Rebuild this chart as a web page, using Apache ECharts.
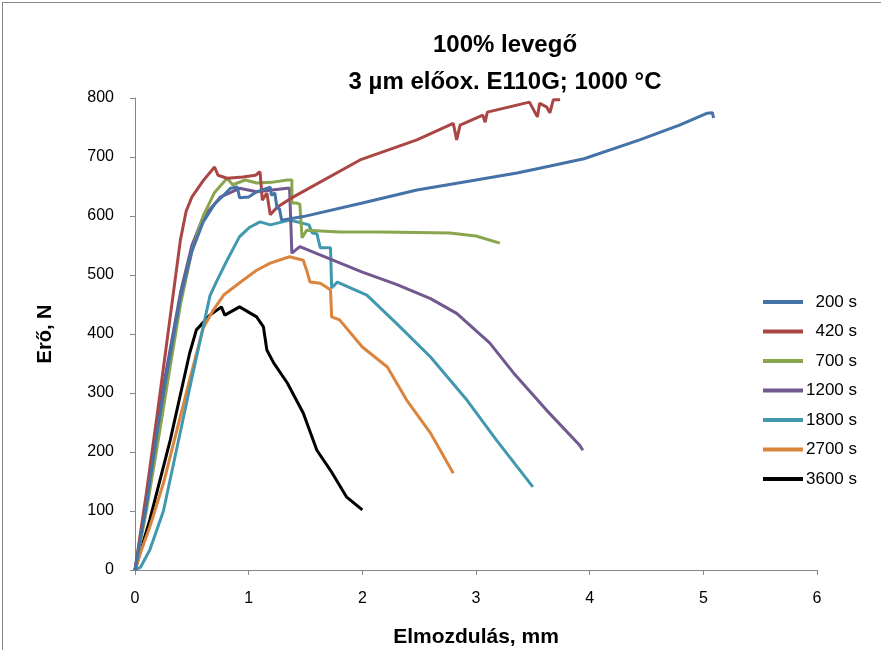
<!DOCTYPE html>
<html>
<head>
<meta charset="utf-8">
<script src="https://cdn.jsdelivr.net/npm/echarts@6/dist/echarts.min.js"></script>
<style>
html,body{margin:0;padding:0;background:#fff;}
#wrap{position:relative;width:881px;height:650px;overflow:hidden;}
#frame{position:absolute;left:2px;top:2px;width:900px;height:700px;border:1px solid #888;box-sizing:border-box;}
#chart{position:absolute;left:0;top:0;width:881px;height:650px;}
</style>
</head>
<body>
<div id="wrap"><div id="frame"></div><div id="chart"></div></div>
<script>
const titleLines = ['100% levegő', '3 µm előox. E110G; 1000 °C'];
const xName = 'Elmozdulás, mm';
const yName = 'Erő, N';
const seriesNames = ['200 s', '420 s', '700 s', '1200 s', '1800 s', '2700 s', '3600 s'];
const seriesColors = ['#4572A7', '#AA4643', '#89A54E', '#71588F', '#4198AF', '#DB843D', '#000000'];

const s200 = [[0,0],[0.1,110],[0.2,240],[0.27,322],[0.4,463],[0.5,540],[0.6,590],[0.7,620],[0.84,647],[0.9,649],[0.92,631],[1.0,632],[1.07,641],[1.19,649],[1.2,635],[1.23,639],[1.25,613],[1.27,613],[1.29,593],[1.48,599],[2.0,622],[2.48,644],[3.0,661],[3.36,673],[3.56,681],[3.95,697],[4.44,729],[4.79,754],[5.03,774],[5.08,775],[5.09,766]];
const s420 = [[0,0],[0.1,130],[0.2,270],[0.3,415],[0.4,560],[0.45,608],[0.5,632],[0.6,660],[0.7,683],[0.73,669],[0.81,664],[0.95,666],[1.06,669],[1.1,675],[1.12,627],[1.16,639],[1.19,602],[1.25,615],[1.39,632],[1.98,695],[2.48,729],[2.8,757],[2.83,729],[2.86,754],[3.06,771],[3.08,759],[3.1,776],[3.47,793],[3.54,768],[3.56,791],[3.62,785],[3.65,775],[3.68,797],[3.74,797]];
const s700 = [[0,0],[0.1,100],[0.2,215],[0.29,322],[0.4,450],[0.5,540],[0.6,600],[0.7,640],[0.81,664],[0.86,653],[0.97,661],[1.07,656],[1.2,657],[1.34,661],[1.38,661],[1.38,622],[1.42,622],[1.45,620],[1.47,563],[1.51,576],[1.8,573],[2.16,573],[2.77,571],[3.0,566],[3.21,554]];
const s1200 = [[0,0],[0.1,115],[0.2,250],[0.26,322],[0.4,470],[0.5,550],[0.6,598],[0.75,632],[0.92,647],[1.07,641],[1.34,647],[1.36,647],[1.38,537],[1.45,548],[2.0,505],[2.3,484],[2.6,460],[2.83,435],[3.12,385],[3.33,334],[3.62,271],[3.91,212],[3.94,203]];
const s1800 = [[0,0],[0.05,5],[0.13,34],[0.25,100],[0.5,325],[0.66,465],[0.72,490],[0.81,525],[0.92,565],[1.01,581],[1.1,590],[1.19,585],[1.36,593],[1.47,588],[1.53,585],[1.56,571],[1.6,570],[1.63,546],[1.72,546],[1.73,478],[1.78,488],[2.04,466],[2.3,418],[2.6,361],[2.92,288],[3.18,220],[3.5,141]];
const s2700 = [[0,0],[0.05,30],[0.13,73],[0.25,147],[0.48,322],[0.6,410],[0.69,441],[0.78,466],[0.95,491],[1.07,508],[1.19,520],[1.36,531],[1.48,525],[1.51,508],[1.54,488],[1.63,486],[1.72,475],[1.73,429],[1.8,424],[2.0,378],[2.22,344],[2.39,288],[2.6,232],[2.8,164]];
const s3600 = [[0,0],[0.13,85],[0.31,220],[0.48,367],[0.54,407],[0.66,432],[0.76,446],[0.79,432],[0.92,446],[1.07,429],[1.13,412],[1.16,373],[1.22,351],[1.34,317],[1.48,266],[1.6,203],[1.72,169],[1.86,124],[2.0,102]];
const seriesData = [s200, s420, s700, s1200, s1800, s2700, s3600];

const font = 'Liberation Sans, Arial, sans-serif';
const chart = echarts.init(document.getElementById('chart'), null, {renderer: 'canvas'});
chart.setOption({
  animation: false,
  backgroundColor: 'transparent',
  title: {
    text: titleLines.join('\n'),
    left: 500, top: 22, textAlign: 'center',
    textStyle: {fontFamily: font, fontSize: 24, fontWeight: 'bold', color: '#000', lineHeight: 37}
  },
  legend: {
    orient: 'vertical', left: 758, top: 287,
    itemWidth: 40, itemHeight: 4, itemGap: 9.5, icon: 'rect',
    data: seriesNames,
    formatter: n => (n.length < 6 ? '\u2007' : '') + n,
    textStyle: {fontFamily: font, fontSize: 17, color: '#000', lineHeight: 20, padding: [0, 0, 0, -2]}
  },
  grid: {left: 135, right: 64, top: 98, bottom: 80, outerBoundsMode: 'none', containLabel: false},
  xAxis: {
    type: 'value', min: 0, max: 6, interval: 1,
    name: xName, nameLocation: 'middle', nameGap: 57,
    nameTextStyle: {fontFamily: font, fontSize: 21, fontWeight: 'bold', color: '#000'},
    axisLine: {lineStyle: {color: '#868686', width: 1}},
    axisTick: {show: true, inside: false, length: 5, lineStyle: {color: '#868686'}},
    axisLabel: {fontFamily: font, fontSize: 16, color: '#000', margin: 21},
    splitLine: {show: false}
  },
  yAxis: {
    type: 'value', min: 0, max: 800, interval: 100,
    name: yName, nameLocation: 'middle', nameGap: 80, nameRotate: 90,
    nameTextStyle: {fontFamily: font, fontSize: 20, fontWeight: 'bold', color: '#000'},
    axisLine: {show: true, lineStyle: {color: '#868686', width: 1}},
    axisTick: {show: true, inside: false, length: 5, lineStyle: {color: '#868686'}},
    axisLabel: {fontFamily: font, fontSize: 16, color: '#000', margin: 21},
    splitLine: {show: false}
  },
  series: seriesNames.map((n, i) => ({
    name: n, type: 'line', data: seriesData[i], showSymbol: false, symbol: 'none',
    lineStyle: {width: 3, color: seriesColors[i]}, itemStyle: {color: seriesColors[i]},
    z: 10 - i
  }))
});
</script>
</body>
</html>
